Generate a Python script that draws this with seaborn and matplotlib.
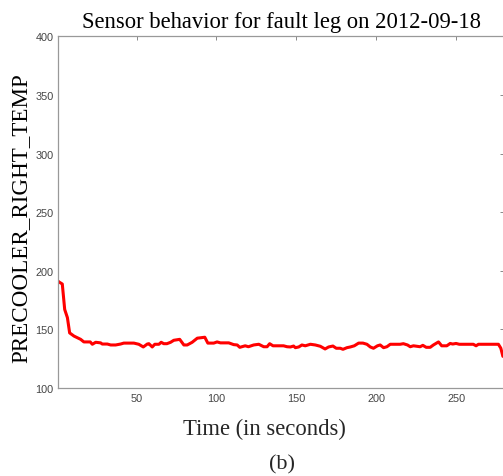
import numpy as np
import pandas as pd
import seaborn as sns
import matplotlib
matplotlib.use("Agg")
import matplotlib.pyplot as plt

time_s = [1, 1.5, 3.5, 5, 6.7, 8.1, 10.8, 15, 17, 21, 22.3, 24.4, 27.5, 28.5, 31.7, 33.8, 36.9, 40, 42,
          48.3, 51.4, 54.2, 56.7, 57.7, 59.8, 61.4, 64, 65.4, 67, 69, 71.3, 73.3, 77, 79.6, 81.7, 84.8,
          88, 91, 92.7, 94.6, 98.3, 100.4, 102.5, 107.7, 110.8, 113, 114.6, 118, 120, 123.3, 126.5,
          129.6, 131.7, 133.3, 135.4, 142, 144.2, 146.3, 148.3, 149.4, 151.5, 153.5, 155.6, 158.8,
          161.9, 165, 168, 170.2, 172.9, 175, 177.5, 179.2, 181.7, 183.8, 186.3, 189, 191.7, 194.2,
          196.3, 198.3, 200.8, 202.5, 204.6, 206.7, 208.8, 215, 217, 219.6, 221.3, 223.3, 225.4,
          227.5, 229.2, 231.3, 233.8, 235.8, 239, 241, 244.2, 246.3, 247.9, 250, 252, 260.8, 262.5,
          264, 276.5, 278, 279.3]
temp = [191, 190.4, 188.7, 167, 160, 147, 144.3, 141.5, 139.3, 139.3, 137.3, 139, 138.5, 137.5, 137.5,
        136.7, 136.7, 137.5, 138.3, 138.3, 137.3, 135, 137.5, 137.8, 135, 137.3, 137.3, 139, 137.8,
        137.8, 139, 140.7, 141.5, 136.7, 136.7, 139, 142.5, 143, 143.3, 138.3, 138.3, 139.3, 138.5,
        138.5, 137, 136.7, 134.7, 136, 135.2, 136.7, 137.3, 135.2, 135.2, 137.8, 136, 136, 135.2,
        135, 135.8, 134.4, 135, 136.7, 136, 137.3, 136.7, 135.6, 133.3, 135, 135.8, 133.9, 133.9,
        133, 134.4, 135, 136, 138.3, 138.3, 137.3, 135, 133.9, 136, 136.7, 134.4, 135.2, 137.3,
        137.3, 137.8, 136.7, 135.2, 136, 135.6, 135.2, 136.4, 134.7, 134.7, 136.7, 139.3, 136, 136,
        138, 137.5, 138, 137.3, 137.3, 136, 137.3, 137.3, 134, 127]

x_ticks = [50, 100, 150, 200, 250]
y_ticks = [100, 150, 200, 250, 300, 350, 400]

df = pd.DataFrame({"t": time_s, "v": temp})

sns.set_style("white")
plt.rcParams["font.family"] = ["Liberation Sans", "DejaVu Sans"]

fig = plt.figure(figsize=(5.03, 4.77), dpi=100)
W, H = 503, 477
ax_w = 504 - 58.3
ax_h = 389 - 37.3
ax = fig.add_axes([58.3 / W, 1 - 389 / H, ax_w / W, ax_h / H])

sns.lineplot(data=df, x="t", y="v", ax=ax, color="#ff0000", linewidth=2.2)

ax.set_xlim(1, 280)
ax.set_ylim(100, 400)
ax.set_xticks(x_ticks)
ax.set_yticks(y_ticks)
ax.tick_params(axis="both", direction="in", length=3, width=0.7, colors="#888888",
               labelcolor="#444444", labelsize=7.8, top=True, right=True, pad=3.5)
for s in ax.spines.values():
    s.set_visible(True)
    s.set_color("#999999")
    s.set_linewidth(0.9)

serif = ["Liberation Serif", "DejaVu Serif"]
ax.set_xlabel("")
ax.set_ylabel("PRECOOLER_RIGHT_TEMP", family=serif, fontsize=16.6, color="black")
ax.yaxis.set_label_coords((31 - 58.3) / ax_w, (389 - 218) / ax_h)
ax.set_title("Sensor behavior for fault leg on 2012-09-18", family=serif, fontsize=16.3,
             color="black", pad=7)
fig.text(264 / W, 1 - 435 / H, "Time (in seconds)", family=serif, fontsize=16.3,
         ha="center", va="baseline")
fig.text(282 / W, 1 - 465 / H, "(b)", family=serif, fontsize=16, ha="center", va="center")

fig.savefig("out.png", dpi=100)
